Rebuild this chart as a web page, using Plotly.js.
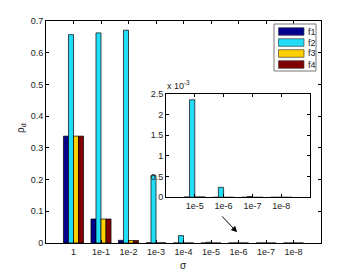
<!DOCTYPE html>
<html>
<head>
<meta charset="utf-8">
<script src="https://cdn.plot.ly/plotly-3.0.1.min.js"></script>
<style>html,body{margin:0;padding:0;background:#fff;}#chart{width:354px;height:273px;}</style>
</head>
<body>
<div id="chart"></div>
<script>
// ---- data ----
var categories = ["1", "1e-1", "1e-2", "1e-3", "1e-4", "1e-5", "1e-6", "1e-7", "1e-8"];
var seriesNames = ["f1", "f2", "f3", "f4"];
var f1 = [0.337, 0.0757, 0.0085, 0.0005, 0.0001, 0.00001, 0, 0, 0];
var f2 = [0.657, 0.6625, 0.671, 0.2126, 0.0233, 0.00236, 0.00024, 0.00002, 0];
var f3 = [0.337, 0.0757, 0.0078, 0.0005, 0.0001, 0.00001, 0, 0, 0];
var f4 = [0.337, 0.0757, 0.0078, 0.0005, 0.0001, 0.00001, 0, 0, 0];
var insetStart = 5; // inset shows categories 1e-5 .. 1e-8
var mainYTicks = [0, 0.1, 0.2, 0.3, 0.4, 0.5, 0.6, 0.7];
var insetYTicks = [0, 0.0005, 0.001, 0.0015, 0.002, 0.0025];
var insetYTickText = ["0", "0.5", "1", "1.5", "2", "2.5"];

var colors = ["#00008F", "#22DDF8", "#FFCF00", "#800000"];
var allSeries = [f1, f2, f3, f4];
var FONT = "Liberation Sans, Arial, sans-serif";

var traces = [];
allSeries.forEach(function (s, i) {
  traces.push({
    type: "bar", x: categories, y: s, name: seriesNames[i],
    marker: {color: colors[i], line: {color: "#000", width: 0.7}},
    xaxis: "x", yaxis: "y", showlegend: false, hoverinfo: "x+y+name"
  });
});
allSeries.forEach(function (s, i) {
  traces.push({
    type: "bar", x: categories.slice(insetStart), y: s.slice(insetStart), name: seriesNames[i],
    marker: {color: colors[i], line: {color: "#000", width: 0.7}},
    xaxis: "x2", yaxis: "y2", showlegend: false, hoverinfo: "x+y+name"
  });
});

var W = 354, H = 273;
function px(x) { return x / W; }
function py(y) { return 1 - y / H; }

var tickFont = {family: FONT, size: 9, color: "#222"};

// custom legend (MATLAB style)
var shapes = [];
var annotations = [];
shapes.push({type: "rect", xref: "paper", yref: "paper",
  x0: px(274), x1: px(316), y0: py(71), y1: py(24),
  line: {color: "#777", width: 1}, fillcolor: "#fff", layer: "above"});
seriesNames.forEach(function (n, i) {
  var top = 27.7 + i * 11;
  shapes.push({type: "rect", xref: "paper", yref: "paper",
    x0: px(278.5), x1: px(304), y0: py(top + 7.6), y1: py(top),
    line: {color: "#444", width: 0.7}, fillcolor: colors[i], layer: "above"});
  annotations.push({xref: "paper", yref: "paper", x: px(305.5), y: py(top + 3.8),
    xanchor: "left", yanchor: "middle", text: n, showarrow: false,
    font: {family: FONT, size: 9, color: "#222"}});
});

// axis titles and inset exponent
annotations.push({xref: "paper", yref: "paper", x: px(183.5), y: py(265),
  xanchor: "center", yanchor: "middle", text: "σ", showarrow: false,
  font: {family: FONT, size: 10, color: "#222"}});
annotations.push({xref: "paper", yref: "paper", x: px(21), y: py(128),
  xanchor: "center", yanchor: "middle", text: "ρ<sub>d</sub>", textangle: -90, showarrow: false,
  font: {family: FONT, size: 10, color: "#222"}});
annotations.push({xref: "paper", yref: "paper", x: px(165), y: py(92.5),
  xanchor: "left", yanchor: "bottom", text: "x 10<sup>-3</sup>", showarrow: false,
  font: {family: FONT, size: 9, color: "#222"}});
// arrow
annotations.push({xref: "x", yref: "y", x: 5.95, y: 0.034, ax: -18, ay: -19,
  axref: "pixel", ayref: "pixel", text: " ", showarrow: true,
  arrowhead: 2, arrowsize: 1.2, arrowwidth: 1, arrowcolor: "#000"});

var layout = {
  width: W, height: H,
  margin: {l: 0, r: 0, t: 0, b: 0},
  paper_bgcolor: "#fff", plot_bgcolor: "#fff",
  barmode: "group", bargap: 0.27, bargroupgap: 0,
  showlegend: false,
  font: {family: FONT, size: 9, color: "#222"},
  xaxis: {domain: [px(46), px(321)], anchor: "y", type: "category",
    range: [-1, 9], showline: true, linecolor: "#000", linewidth: 1, mirror: "ticks",
    ticks: "inside", ticklen: 3, tickcolor: "#000", tickfont: tickFont,
    showgrid: false, zeroline: false, fixedrange: true},
  yaxis: {domain: [py(243), py(21)], anchor: "x",
    range: [0, 0.7], tickvals: mainYTicks, ticktext: mainYTicks.map(String),
    showline: true, linecolor: "#000", linewidth: 1, mirror: "ticks",
    ticks: "inside", ticklen: 3, tickcolor: "#000", tickfont: tickFont,
    showgrid: false, zeroline: false, fixedrange: true},
  xaxis2: {domain: [px(166), px(310)], anchor: "y2", type: "category",
    range: [-1, 4], showline: true, linecolor: "#000", linewidth: 1, mirror: "ticks",
    ticks: "inside", ticklen: 3, tickcolor: "#000", tickfont: tickFont,
    showgrid: false, zeroline: false, fixedrange: true},
  yaxis2: {domain: [py(197.3), py(94)], anchor: "x2",
    range: [0, 0.0025], tickvals: insetYTicks, ticktext: insetYTickText,
    showline: true, linecolor: "#000", linewidth: 1, mirror: "ticks",
    ticks: "inside", ticklen: 3, tickcolor: "#000", tickfont: tickFont,
    showgrid: false, zeroline: false, fixedrange: true},
  shapes: shapes,
  annotations: annotations
};

Plotly.newPlot("chart", traces, layout, {displayModeBar: false, staticPlot: true});
</script>
</body>
</html>
